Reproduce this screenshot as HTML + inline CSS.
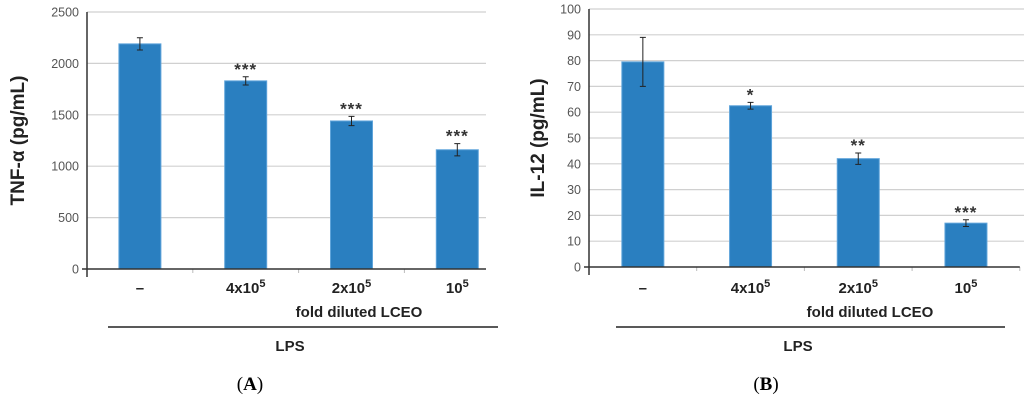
<!DOCTYPE html>
<html><head><meta charset="utf-8"><style>
html,body{margin:0;padding:0;background:#fff;width:1024px;height:404px;overflow:hidden}
svg{display:block;font-family:"Liberation Sans",sans-serif}
</style></head><body>
<svg id="fig" width="1024" height="404"></svg>
<script>
const categories = ["–", "4x10^5", "2x10^5", "10^5"];
const tnfValues = [2190, 1830, 1440, 1160];
const tnfErrors = [60, 40, 45, 60];
const tnfStars = ["", "***", "***", "***"];
const tnfTicks = [0, 500, 1000, 1500, 2000, 2500];
const il12Values = [79.5, 62.5, 42, 17];
const il12Errors = [9.5, 1.3, 2.2, 1.3];
const il12Stars = ["", "*", "**", "***"];
const il12Ticks = [0, 10, 20, 30, 40, 50, 60, 70, 80, 90, 100];

const NS = "http://www.w3.org/2000/svg";
const svg = document.getElementById("fig");
function mk(tag, attrs, parent, text) {
  const e = document.createElementNS(NS, tag);
  for (const k in attrs) e.setAttribute(k, attrs[k]);
  if (text !== undefined) e.textContent = text;
  (parent || svg).appendChild(e);
  return e;
}
function drawChart(cfg) {
  const g = mk("g", {});
  
  
  const {x0, gridEnd, yTop, yBot, max, cw} = cfg;
  const y = v => yBot - v / max * (yBot - yTop);
  const xc = i => x0 + cw * (i + 0.5);
  cfg.ticks.forEach(t => {
    if (t > 0) {
      const gl = mk("line", {x1: x0, x2: gridEnd, y1: y(t), y2: y(t), stroke: "#d0d0d0", "stroke-width": 1.2}, g);
      
      
    }
    const tl = mk("text", {x: x0 - 8, y: y(t) + 4.5, "text-anchor": "end", "font-size": 12.5, fill: "#555"}, g, String(t));
    
    
  });
  cfg.values.forEach((v, i) => {
    const bw = 42;
    const b = mk("rect", {x: xc(i) - bw / 2, y: y(v), width: bw, height: yBot - y(v), fill: "#2a7fc0", stroke: "#5fa4da", "stroke-width": 1}, g);
    
    
    const e = cfg.errors[i];
    const eg = mk("path", {d: `M${xc(i)} ${y(v + e)}V${y(v - e)}M${xc(i) - 3} ${y(v + e)}h6M${xc(i) - 3} ${y(v - e)}h6`, stroke: "#222", "stroke-width": 1, fill: "none"}, g);
    
    
    if (cfg.stars[i]) {
      const s = mk("text", {x: xc(i), y: y(v + e) - 2, "text-anchor": "middle", "font-size": 17, "font-weight": "bold", "letter-spacing": 1, fill: "#333"}, g, cfg.stars[i]);
      
      
    }
    const c = categories[i];
    const lab = mk("text", {x: xc(i), y: 293, "text-anchor": "middle", "font-size": 15, "font-weight": "bold", fill: "#222"}, g);
    
    
    if (c.includes("^")) {
      const [b0, p] = c.split("^");
      mk("tspan", {}, lab, b0);
      mk("tspan", {dy: -6, "font-size": 11}, lab, p);
    } else lab.textContent = c;
  });
  for (let i = 1; i <= categories.length; i++) {
    if (x0 + cw * i <= gridEnd) mk("line", {x1: x0 + cw * i, x2: x0 + cw * i, y1: yBot, y2: yBot + 4, stroke: "#bbb"}, g);
  }
  const axEnd = Math.min(x0 + cw * 4, gridEnd);
  const ax = mk("path", {d: `M${x0} ${yTop}V${yBot + 8}M${x0 - 5} ${yBot}H${axEnd}`, stroke: "#333", "stroke-width": 1.5, fill: "none"}, g);
  
  
  const yt = mk("text", {transform: `translate(${cfg.titleX},${(yTop + yBot) / 2}) rotate(-90)`, "text-anchor": "middle", "font-size": 19, "font-weight": "bold", fill: "#222"}, g, cfg.title);
  
  
  const xt = mk("text", {x: cfg.xTitleX, y: 317, "text-anchor": "middle", "font-size": 15, "font-weight": "bold", fill: "#222"}, g, "fold diluted LCEO");
  
  
  const ll = mk("line", {x1: cfg.lpsX1, x2: cfg.lpsX2, y1: 327, y2: 327, stroke: "#222", "stroke-width": 1.5}, g);
  
  
  const lps = mk("text", {x: cfg.lpsX1 + 182, y: 351, "text-anchor": "middle", "font-size": 15, "font-weight": "bold", fill: "#222"}, g, "LPS");
  
  
  const pl = mk("text", {x: cfg.panelX, y: 390, "text-anchor": "middle", "font-size": 19, "font-family": "Liberation Serif, serif", fill: "#000"}, g);
  
  
  mk("tspan", {}, pl, "(");
  mk("tspan", {"font-weight": "bold"}, pl, cfg.panel);
  mk("tspan", {}, pl, ")");
}
drawChart({name: "chart-tnf-alpha", x0: 87, cw: 105.8, gridEnd: 486, yTop: 12, yBot: 269, max: 2500, ticks: tnfTicks, values: tnfValues, errors: tnfErrors, stars: tnfStars, title: "TNF-α (pg/mL)", titleX: 24, xTitleX: 359, lpsX1: 108, lpsX2: 498, panelX: 250, panel: "A"});
drawChart({name: "chart-il12", x0: 589, cw: 107.7, gridEnd: 1024, yTop: 9, yBot: 267, max: 100, ticks: il12Ticks, values: il12Values, errors: il12Errors, stars: il12Stars, title: "IL-12 (pg/mL)", titleX: 544, xTitleX: 870, lpsX1: 616, lpsX2: 1005, panelX: 766, panel: "B"});
</script>
</body></html>
